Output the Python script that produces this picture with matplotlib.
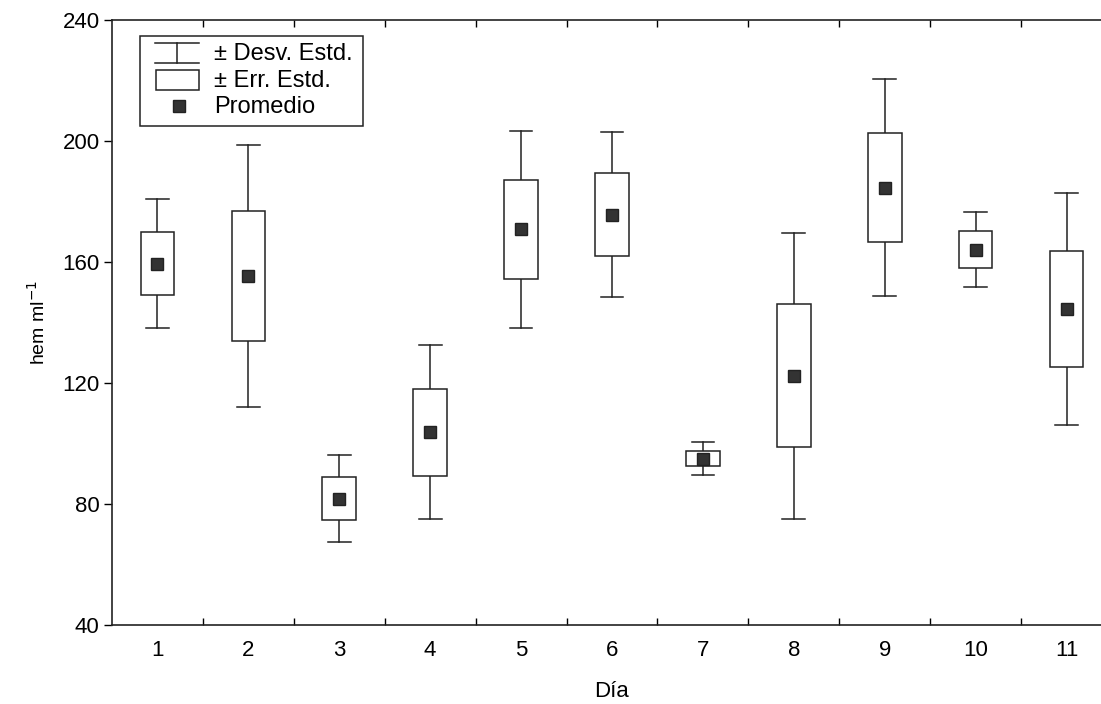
import numpy as np
import matplotlib.pyplot as plt
import matplotlib as mpl
from matplotlib.patches import Rectangle
from matplotlib.lines import Line2D

mpl.rcParams['font.family'] = ['Liberation Sans', 'DejaVu Sans']

# hemocitos por dia: promedio, error estandar, desviacion estandar
dias = ['1', '2', '3', '4', '5', '6', '7', '8', '9', '10', '11']
promedio = [159.5, 155.5, 81.8, 103.7, 170.8, 175.7, 95.0, 122.4, 184.6, 164.1, 144.4]
err_estd = [10.4, 21.5, 7.1, 14.4, 16.3, 13.7, 2.5, 23.6, 18.0, 6.0, 19.1]
desv_estd = [21.3, 43.3, 14.4, 28.8, 32.5, 27.3, 5.5, 47.3, 36.0, 12.4, 38.4]

W, H = 1101, 704
fig = plt.figure(figsize=(W / 100, H / 100), dpi=100)
# right edge of the axes falls just outside the picture, as in the original
ax = fig.add_axes([112 / W, 1 - 625 / H, 1000 / W, 605 / H])

x = np.arange(1, len(dias) + 1)
prom = np.array(promedio)
se = np.array(err_estd)
sd = np.array(desv_estd)

lw = 1.1
box_w = 0.37
cap_w = 0.25
ink = '#222222'

for xi, m, e, s in zip(x, prom, se, sd):
    # whiskers (+- desv. estd.)
    ax.plot([xi, xi], [m + e, m + s], color=ink, lw=lw, zorder=2)
    ax.plot([xi, xi], [m - s, m - e], color=ink, lw=lw, zorder=2)
    ax.plot([xi - cap_w / 2, xi + cap_w / 2], [m + s, m + s], color=ink, lw=lw, zorder=2)
    ax.plot([xi - cap_w / 2, xi + cap_w / 2], [m - s, m - s], color=ink, lw=lw, zorder=2)
    # box (+- err. estd.)
    ax.add_patch(Rectangle((xi - box_w / 2, m - e), box_w, 2 * e,
                           facecolor='white', edgecolor=ink, lw=lw, zorder=3))

ax.plot(x, prom, linestyle='none', marker='s', markersize=9,
        color='#333333', markeredgecolor='#222222', zorder=4)

ax.set_xlim(0.5, 11.5)
ax.set_ylim(40, 240)
ax.set_yticks([40, 80, 120, 160, 200, 240])
ax.set_xticks(x)
ax.set_xticklabels(dias)
ax.set_xticks(np.arange(1.5, 11, 1), minor=True)

ax.tick_params(axis='x', which='major', length=0, pad=11, labelsize=16)
ax.tick_params(axis='x', which='minor', direction='in', length=5, width=1,
               top=True, bottom=True)
ax.tick_params(axis='y', which='major', direction='out', length=6, width=1,
               labelsize=16, pad=3)

for side in ['left', 'bottom', 'top', 'right']:
    ax.spines[side].set_linewidth(1.2)
    ax.spines[side].set_color(ink)

ax.set_xlabel('Día', fontsize=16, labelpad=14)
ax.set_ylabel('hem ml$^{-1}$', fontsize=14, labelpad=10)


# legend drawn by hand, in pixel positions of the figure
def fx(px):
    return px / W


def fy(py):
    return 1 - py / H


tf = fig.transFigure
fig.add_artist(Rectangle((fx(140), fy(126)), fx(363) - fx(140), fy(36) - fy(126),
                         transform=tf, facecolor='white', edgecolor=ink, lw=1.1))
fig.add_artist(Line2D([fx(155), fx(199)], [fy(43), fy(43)], transform=tf, color=ink, lw=lw))
fig.add_artist(Line2D([fx(155), fx(199)], [fy(63), fy(63)], transform=tf, color=ink, lw=lw))
fig.add_artist(Line2D([fx(177), fx(177)], [fy(43), fy(63)], transform=tf, color=ink, lw=lw))
fig.add_artist(Rectangle((fx(156), fy(90)), fx(199) - fx(156), fy(70) - fy(90),
                         transform=tf, facecolor='white', edgecolor=ink, lw=lw))
fig.add_artist(Line2D([fx(179)], [fy(106)], transform=tf, marker='s', markersize=9,
                      color='#333333', markeredgecolor='#222222', linestyle='none'))
for txt, py in [('± Desv. Estd.', 54), ('± Err. Estd.', 81), ('Promedio', 107)]:
    fig.text(fx(214), fy(py), txt, fontsize=17, va='center', ha='left')

fig.savefig('out.png', dpi=100)
